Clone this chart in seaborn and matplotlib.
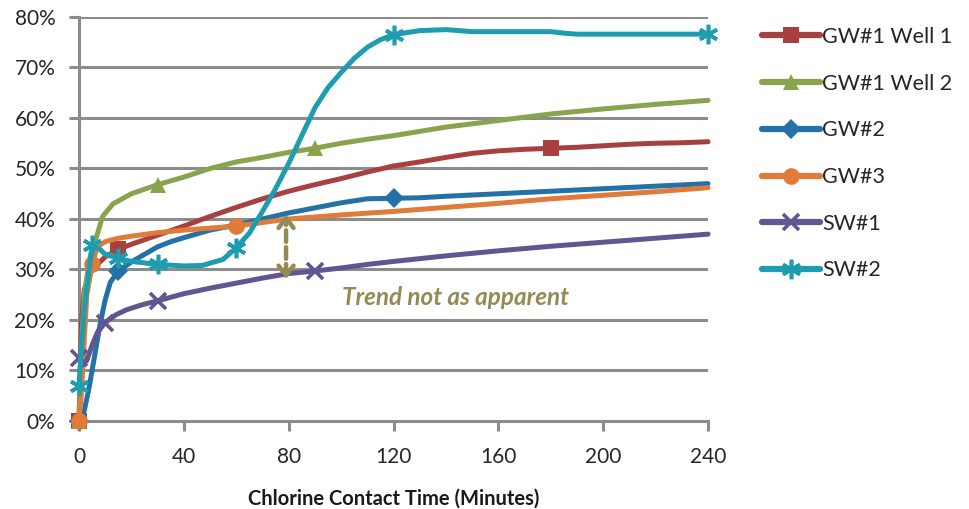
import numpy as np
import pandas as pd
import matplotlib
matplotlib.use("Agg")
import matplotlib.pyplot as plt
import seaborn as sns

# ---------------- data ----------------
series_names = ["GW#1 Well 1", "GW#1 Well 2", "GW#2", "GW#3", "SW#1", "SW#2"]

gw1w1_t = [0, 1, 2, 5, 10, 15, 20, 30, 40, 50, 60, 70, 80, 90, 100, 110, 120, 130, 140,
           150, 160, 170, 180, 190, 200, 210, 220, 230, 240]
gw1w1_v = [0, 20, 26, 30, 32.5, 34, 35, 36.8, 38.6, 40.5, 42.3, 44, 45.5, 46.8, 48, 49.3,
           50.5, 51.3, 52.2, 53, 53.5, 53.8, 54, 54.2, 54.5, 54.8, 55, 55.1, 55.3]
gw1w1_marks = [0, 15, 180]

gw1w2_t = [0, 1, 2, 4, 7, 9, 13, 20, 30, 40, 50, 60, 70, 80, 90, 100, 110, 120, 140,
           160, 180, 200, 220, 240]
gw1w2_v = [0, 15, 25, 32, 37, 40.5, 43, 45, 46.8, 48.3, 50, 51.3, 52.2, 53.2, 54, 55,
           55.8, 56.5, 58.2, 59.5, 60.8, 61.8, 62.7, 63.5]
gw1w2_marks = [0, 30, 90]

gw2_t = [0, 2, 4, 6, 8, 10, 12, 15, 20, 25, 30, 35, 40, 50, 60, 70, 80, 90, 100, 110,
         120, 130, 140, 160, 180, 200, 220, 240]
gw2_v = [0, 2, 7, 13, 19, 24, 27.5, 29.7, 31.5, 33, 34.5, 35.5, 36.3, 37.8, 38.8, 40,
         41.2, 42.2, 43.2, 44, 44.1, 44.2, 44.5, 45, 45.5, 46, 46.5, 47]
gw2_marks = [0, 15, 120]

gw3_t = [0, 1, 2, 3, 5, 7, 10, 15, 20, 30, 40, 50, 60, 70, 80, 100, 120, 140, 160, 180,
         200, 220, 240]
gw3_v = [0, 6, 16, 25, 31, 34.5, 35.5, 36.2, 36.6, 37.3, 37.8, 38.2, 38.6, 39.3, 40,
         40.8, 41.5, 42.3, 43.1, 44, 44.7, 45.4, 46.2]
gw3_marks = [0, 5, 60]

sw1_t = [0, 1, 3, 5, 7, 10, 14, 18, 24, 30, 40, 50, 60, 70, 80, 90, 100, 110, 120, 140,
         160, 180, 200, 220, 240]
sw1_v = [12.5, 11, 12, 15, 17.5, 19.5, 21, 22, 23, 23.8, 25.2, 26.3, 27.3, 28.3, 29.2,
         29.7, 30.3, 31, 31.6, 32.7, 33.7, 34.6, 35.4, 36.2, 37]
sw1_marks = [0, 10, 30, 90]

sw2_t = [0, 2, 5, 8, 10, 15, 20, 30, 40, 47, 55, 60, 65, 70, 75, 80, 85, 90, 95, 100,
         105, 110, 115, 120, 130, 140, 150, 160, 180, 185, 190, 200, 220, 240]
sw2_v = [7, 22, 34.8, 34, 33, 32.2, 31.6, 31, 30.7, 30.8, 32, 34.3, 37.2, 41.5, 46, 51,
         56.5, 62, 66, 69, 71.8, 74, 75.5, 76.5, 77.3, 77.5, 77.1, 77.1, 77.1, 76.8, 76.6,
         76.6, 76.6, 76.6]
sw2_marks = [0, 5, 15, 30, 60, 120, 240]

x_ticks = [0, 40, 80, 120, 160, 200, 240]
y_ticks = [0, 10, 20, 30, 40, 50, 60, 70, 80]
y_tick_labels = ["0%", "10%", "20%", "30%", "40%", "50%", "60%", "70%", "80%"]

annotation_text = "Trend not as apparent"
arrow_time = 79
arrow_top, arrow_bottom = 41.5, 27.5

# ---------------- styling ----------------
colors = ["#A94040", "#89A44C", "#2471A8", "#E07B39", "#625591", "#1E9DB0"]
markers = ["s", "^", "D", "o", "x", (6, 2, 0)]
msizes = [12, 12, 10, 12, 12, 14]

sns.set_theme(style="white")
plt.rcParams["font.family"] = ["Lato", "DejaVu Sans"]

fig = plt.figure(figsize=(9.69, 5.09), dpi=100)
ax = fig.add_axes([0.0815, 0.1729, 0.7307 - 0.0815, 0.9666 - 0.1729])

all_t = [gw1w1_t, gw1w2_t, gw2_t, gw3_t, sw1_t, sw2_t]
all_v = [gw1w1_v, gw1w2_v, gw2_v, gw3_v, sw1_v, sw2_v]
all_m = [gw1w1_marks, gw1w2_marks, gw2_marks, gw3_marks, sw1_marks, sw2_marks]

frames = []
for name, t, v in zip(series_names, all_t, all_v):
    frames.append(pd.DataFrame({"series": name, "time": t, "value": v}))
df = pd.concat(frames, ignore_index=True)

grid_color = "#8C8C8C"
for yv in y_ticks[1:]:
    ax.axhline(yv, color=grid_color, lw=2.2, zorder=0)

handles = []
for i, name in enumerate(series_names):
    sub = df[df["series"] == name].reset_index(drop=True)
    idx = [int(np.where(np.isclose(sub["time"].values, m))[0][0]) for m in all_m[i]]
    is_line = markers[i] in ("x", (6, 2, 0))
    sns.lineplot(data=sub, x="time", y="value", ax=ax, color=colors[i], lw=3.6,
                 marker=markers[i], markersize=msizes[i], markevery=idx,
                 markeredgewidth=2.6 if is_line else 0, markeredgecolor=colors[i],
                 estimator=None, sort=False, zorder=3 + i, clip_on=False,
                 solid_capstyle="round", solid_joinstyle="round")
    h, = ax.plot([], [], color=colors[i], lw=4.5, marker=markers[i],
                 markersize=msizes[i], markeredgewidth=2.6 if is_line else 0,
                 markeredgecolor=colors[i], solid_capstyle="round")
    handles.append(h)

ann_color = "#948A54"
ax.annotate("", xy=(arrow_time, arrow_top), xytext=(arrow_time, arrow_bottom),
            arrowprops=dict(arrowstyle="<->,head_length=0.6,head_width=0.45",
                            color=ann_color, lw=3.2, linestyle=(0, (2.6, 1.2))),
            zorder=20)
ax.text(143.5, 24.4, annotation_text, color=ann_color, fontsize=17.5, fontweight="bold",
        fontstyle="italic", ha="center", va="center", zorder=20)

ax.set_xlim(0, 240)
ax.set_ylim(0, 80)
ax.set_xticks(x_ticks)
ax.set_yticks(y_ticks)
ax.set_yticklabels(y_tick_labels)
ax.set_xlabel("Chlorine Contact Time (Minutes)", fontsize=14.5, fontweight="bold",
              color="#1A1A1A", labelpad=15)
ax.set_ylabel("")

for side in ["top", "right"]:
    ax.spines[side].set_visible(False)
for side in ["left", "bottom"]:
    ax.spines[side].set_color(grid_color)
    ax.spines[side].set_linewidth(2.2)
ax.tick_params(axis="both", which="both", direction="out", length=7, width=2.2,
               color=grid_color, labelsize=15, labelcolor="#262626", left=True,
               bottom=True)
ax.tick_params(axis="y", pad=10)
ax.tick_params(axis="x", pad=12)

leg = fig.legend(handles, series_names, loc="upper left",
                 bbox_to_anchor=(0.7864, 0.947), frameon=False, fontsize=15.5,
                 handlelength=2.7, handletextpad=0.1, labelspacing=1.24,
                 borderpad=0, borderaxespad=0, labelcolor="#262626")

fig.savefig("out.png", dpi=100)
